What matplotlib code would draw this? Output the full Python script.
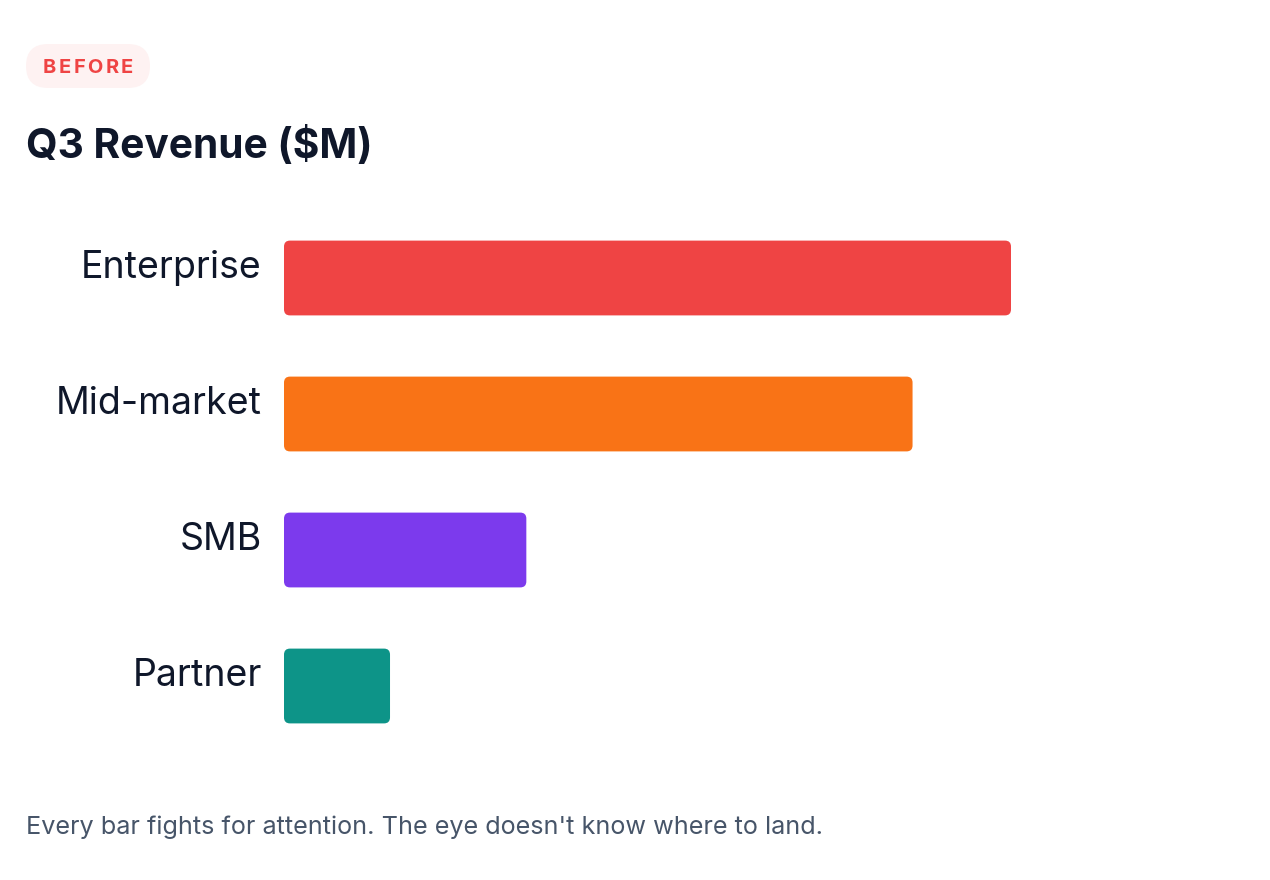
import matplotlib
matplotlib.use("Agg")
import matplotlib.pyplot as plt
from matplotlib.patches import FancyBboxPatch

categories = ["Enterprise", "Mid-market", "SMB", "Partner"]
values = [4.8, 4.15, 1.6, 0.7]
colors = ["#EF4444", "#F97316", "#7C3AED", "#0D9488"]
title = "Q3 Revenue ($M)"
badge = "BEFORE"
caption = "Every bar fights for attention. The eye doesn't know where to land."

W, H = 1270, 880
DPI = 100
FONT = ["Inter", "DejaVu Sans"]
plt.rcParams["font.family"] = FONT

fig = plt.figure(figsize=(W / DPI, H / DPI), dpi=DPI)
fig.patch.set_facecolor("white")

def fx(px):
    return px / W

def fy(py):
    return 1 - py / H

def pt(px):
    return px * 72 / DPI

# axes placement in pixels (top-origin)
ax_left, ax_right = 284, 1011
ax_top, ax_bottom = 210, 754
ax = fig.add_axes([fx(ax_left), fy(ax_bottom), fx(ax_right - ax_left), (ax_bottom - ax_top) / H])

ypos = list(range(len(categories)))
bars = ax.barh(ypos, values, height=0.55, color="none", edgecolor="none")
ax.set_xlim(0, max(values))
ax.set_ylim(len(categories) - 0.5, -0.5)

px_per_x = (ax_right - ax_left) / max(values)
px_per_y = (ax_bottom - ax_top) / len(categories)
radius_px = 6
for b, c in zip(bars, colors):
    p = FancyBboxPatch((b.get_x(), b.get_y()), b.get_width(), b.get_height(),
                       boxstyle=f"round,pad=0,rounding_size={radius_px / px_per_x}",
                       mutation_aspect=px_per_x / px_per_y,
                       facecolor=c, edgecolor="none")
    ax.add_patch(p)

ax.set_yticks(ypos)
ax.set_yticklabels(categories, fontsize=pt(37.5), color="#0F172A")
for lbl in ax.get_yticklabels():
    lbl.set_va("baseline")
ax.tick_params(axis="y", length=0, pad=pt(22))
ax.set_xticks([])
for s in ax.spines.values():
    s.set_visible(False)
ax.patch.set_alpha(0)

# badge pill
pill = FancyBboxPatch((fx(26), fy(88)), fx(124), (88 - 44) / H,
                      boxstyle=f"round,pad=0,rounding_size={fx(22)}",
                      mutation_aspect=W / H,
                      transform=fig.transFigure, facecolor="#FEF2F2", edgecolor="none")
fig.patches.append(pill)

# letter-spaced badge text
renderer = fig.canvas.get_renderer()
spacing = 2.4
chars = []
for ch in badge:
    t = fig.text(0, fy(73), ch, ha="left", va="baseline", fontsize=pt(20),
                 fontweight="bold", color="#EF4444")
    chars.append(t)
widths = [t.get_window_extent(renderer).width for t in chars]
total = sum(widths) + spacing * (len(chars) - 1)
x = 88 - total / 2
for t, w in zip(chars, widths):
    t.set_x(fx(x))
    x += w + spacing

fig.text(fx(26), fy(158), title, ha="left", va="baseline", fontsize=pt(40.7),
         fontweight="bold", color="#0F172A")

fig.text(fx(26), fy(834), caption, ha="left", va="baseline", fontsize=pt(25.2),
         color="#475569")

fig.savefig("out.png", dpi=DPI, facecolor="white")
